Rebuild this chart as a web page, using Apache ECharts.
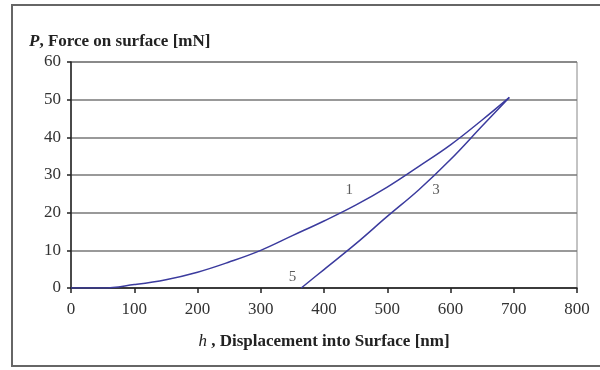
<!DOCTYPE html>
<html>
<head>
<meta charset="utf-8">
<script src="https://cdn.jsdelivr.net/npm/echarts@6/dist/echarts.min.js"></script>
<style>html,body{margin:0;padding:0;background:#fff;}#c{width:600px;height:370px;}</style>
</head>
<body>
<div id="c"></div>
<script>
// Loading curve (1): displacement [nm], force [mN]
var loadX = [0, 50, 100, 150, 200, 250, 300, 350, 400, 450, 500, 550, 600, 650, 693];
var loadY = [0, 0, 0.9, 2.2, 4.2, 6.9, 10, 13.9, 17.8, 22, 26.8, 32.3, 38, 44.6, 50.6];
// Unloading curve (3)
var unloadX = [364, 400, 450, 500, 550, 600, 650, 693];
var unloadY = [0, 4.9, 11.7, 19, 26.1, 34.1, 43, 50.6];
// Curve annotations
var noteText = ['1', '3', '5'];
var noteX = [440, 577, 350];
var noteY = [26, 26, 2.9];
var xTicks = [0, 100, 200, 300, 400, 500, 600, 700, 800];
var yTicks = [0, 10, 20, 30, 40, 50, 60];

function pairs(xs, ys) { return xs.map(function (x, i) { return [x, ys[i]]; }); }

var font = 'Liberation Serif';
var lineColor = '#3b3b9e';
var chart = echarts.init(document.getElementById('c'));
chart.setOption({
  animation: false,
  textStyle: { fontFamily: font },
  title: {
    text: '{i|P}{b|, Force on surface [mN]}',
    left: 24, top: 28,
    textStyle: {
      rich: {
        i: { fontFamily: font, fontStyle: 'italic', fontSize: 17, color: '#222' },
        b: { fontFamily: font, fontWeight: 'bold', fontSize: 17, color: '#222' }
      }
    }
  },
  graphic: [{
    type: 'rect', silent: true,
    shape: { x: 12, y: 5, width: 600, height: 361 },
    style: { fill: 'none', stroke: '#666', lineWidth: 2 }
  }],
  grid: { left: 71, right: 23, top: 62, bottom: 82, show: true, borderColor: '#888', borderWidth: 1, backgroundColor: 'transparent' },
  xAxis: {
    type: 'value', min: xTicks[0], max: xTicks[xTicks.length - 1], interval: 100,
    axisLine: { lineStyle: { color: '#222', width: 1.5 } },
    axisTick: { show: true, length: 5, lineStyle: { color: '#222', width: 1.5 } },
    axisLabel: { color: '#333', fontSize: 17, fontFamily: font, margin: 13 },
    splitLine: { show: false },
    name: '{i|h}{b| , Displacement into Surface [nm]}',
    nameLocation: 'middle', nameGap: 45,
    nameTextStyle: {
      rich: {
        i: { fontFamily: font, fontStyle: 'italic', fontSize: 17, color: '#222' },
        b: { fontFamily: font, fontWeight: 'bold', fontSize: 17, color: '#222' }
      }
    }
  },
  yAxis: {
    type: 'value', min: yTicks[0], max: yTicks[yTicks.length - 1], interval: 10,
    axisLine: { show: true, lineStyle: { color: '#222', width: 1.5 } },
    axisTick: { show: true, length: 4, lineStyle: { color: '#222', width: 1.5 } },
    axisLabel: { color: '#333', fontSize: 17, fontFamily: font, margin: 10 },
    splitLine: { show: true, lineStyle: { color: '#777', width: 1.5 } }
  },
  series: [
    {
      type: 'line', data: pairs(loadX, loadY), smooth: 0.4, showSymbol: false,
      lineStyle: { color: lineColor, width: 1.5 }
    },
    {
      type: 'line', data: pairs(unloadX, unloadY), smooth: 0.4, showSymbol: false,
      lineStyle: { color: lineColor, width: 1.5 }
    },
    {
      type: 'scatter', symbolSize: 0,
      data: noteText.map(function (t, i) { return { name: t, value: [noteX[i], noteY[i]] }; }),
      label: { show: true, position: 'inside', formatter: '{b}', fontFamily: font, fontSize: 15, color: '#333' }
    }
  ]
});
</script>
</body>
</html>
